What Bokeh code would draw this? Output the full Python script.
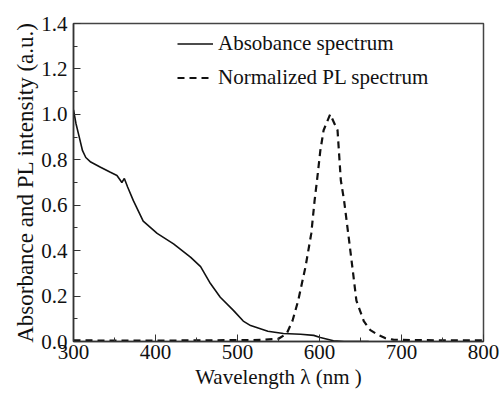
from bokeh.plotting import figure
from bokeh.models import Range1d, FixedTicker, NumeralTickFormatter, Legend, LegendItem
from bokeh.embed import file_html
from bokeh.resources import INLINE

# Absorbance spectrum
abs_wl = [300, 303, 306, 311, 315, 321, 333, 345, 353, 359, 362, 366, 373, 385, 402, 422, 443, 455,
          467, 479, 495, 507, 516, 537, 556, 577, 593, 601, 617, 630, 660]
abs_val = [1.02, 0.96, 0.915, 0.84, 0.81, 0.79, 0.767, 0.745, 0.731, 0.70, 0.718, 0.68, 0.62, 0.53,
           0.476, 0.43, 0.37, 0.33, 0.255, 0.195, 0.137, 0.09, 0.07, 0.045, 0.035, 0.032, 0.027,
           0.018, 0.003, 0.0, 0.0]

# Normalized PL spectrum
pl_wl = [300, 350, 400, 450, 500, 530, 550, 560, 567, 574, 583, 590, 594, 597, 601, 605, 613,
         622, 626, 630, 635, 640, 645, 654, 662, 671, 680, 690, 720, 760, 800]
pl_val = [0.005, 0.004, 0.004, 0.005, 0.006, 0.007, 0.012, 0.035, 0.09, 0.18, 0.33, 0.476, 0.62,
          0.71, 0.84, 0.93, 1.0, 0.93, 0.71, 0.62, 0.476, 0.33, 0.18, 0.09, 0.05, 0.03, 0.015,
          0.008, 0.006, 0.005, 0.005]

x_major = [300, 400, 500, 600, 700, 800]
x_minor = [350, 450, 550, 650, 750]
y_major = [0.0, 0.2, 0.4, 0.6, 0.8, 1.0, 1.2, 1.4]
y_minor = [0.1, 0.3, 0.5, 0.7, 0.9, 1.1, 1.3]

FONT = "Liberation Serif"
INK = "#111111"

p = figure(width=500, height=394, output_backend="svg", toolbar_location=None,
           x_range=Range1d(300, 800), y_range=Range1d(0, 1.4),
           min_border_left=73, min_border_right=17, min_border_top=23, min_border_bottom=53)

p.background_fill_color = "white"
p.border_fill_color = "white"
p.outline_line_color = "#444444"
p.outline_line_width = 1.5
p.grid.visible = False

r_abs = p.line(abs_wl, abs_val, line_color=INK, line_width=1.6)
r_pl = p.line(pl_wl, pl_val, line_color=INK, line_width=2.2, line_dash="7 5")

p.xaxis.ticker = FixedTicker(ticks=x_major, minor_ticks=x_minor)
p.yaxis.ticker = FixedTicker(ticks=y_major, minor_ticks=y_minor)
p.yaxis.formatter = NumeralTickFormatter(format="0.0")

for ax in (p.xaxis[0], p.yaxis[0]):
    ax.axis_line_color = "#333333"
    ax.axis_line_width = 1.5
    ax.major_tick_in = 7
    ax.major_tick_out = 0
    ax.minor_tick_in = 4
    ax.minor_tick_out = 0
    ax.major_tick_line_color = "#333333"
    ax.minor_tick_line_color = "#333333"
    ax.major_label_text_font = FONT
    ax.major_label_text_font_size = "21px"
    ax.major_label_text_color = INK
    ax.axis_label_text_font = FONT
    ax.axis_label_text_font_style = "normal"
    ax.axis_label_text_color = INK

p.xaxis.axis_label = "Wavelength λ (nm )"
p.xaxis.axis_label_text_font_size = "21px"
p.xaxis.major_label_standoff = 3
p.xaxis.axis_label_standoff = 3
p.yaxis.axis_label = "Absorbance and PL intensity (a.u.)"
p.yaxis.axis_label_text_font_size = "23px"
p.yaxis.major_label_standoff = 6
p.yaxis.axis_label_standoff = 0

legend = Legend(items=[LegendItem(label="Absobance spectrum", renderers=[r_abs]),
                       LegendItem(label="Normalized PL spectrum", renderers=[r_pl])],
                location=(104, 251), orientation="vertical")
legend.background_fill_alpha = 0
legend.border_line_alpha = 0
legend.padding = 0
legend.margin = 0
legend.spacing = 9
legend.glyph_width = 36
legend.glyph_height = 25
legend.label_height = 25
legend.label_standoff = 5
legend.label_text_font = FONT
legend.label_text_font_size = "21px"
legend.label_text_color = INK
p.add_layout(legend)

open("out.html", "w").write(file_html(p, INLINE))
